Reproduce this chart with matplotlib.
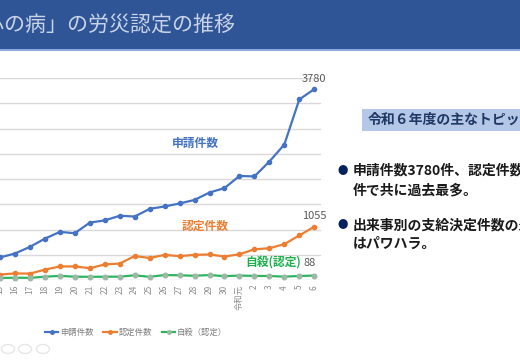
import matplotlib.pyplot as plt
from matplotlib.lines import Line2D
from matplotlib.patches import Rectangle, Circle

plt.rcParams['font.family'] = ['Noto Sans CJK JP', 'DejaVu Sans']

# years: 平成15..30, 令和元..6
years = ['15', '16', '17', '18', '19', '20', '21', '22', '23', '24', '25',
         '26', '27', '28', '29', '30', '令和元', '2', '3', '4', '5', '6']
claims = [447, 524, 656, 819, 952, 927, 1136, 1181, 1272, 1257, 1409,
          1456, 1515, 1586, 1732, 1820, 2060, 2051, 2346, 2683, 3575, 3780]
approved = [108, 130, 127, 205, 268, 269, 234, 308, 325, 475, 436,
            497, 472, 498, 506, 465, 509, 608, 629, 710, 883, 1055]
suicide = [40, 45, 42, 66, 81, 66, 63, 65, 66, 93, 63,
           99, 93, 84, 98, 76, 88, 81, 79, 67, 79, 88]

blue = '#4472C4'
orange = '#ED7D31'
green = '#2DB560'

fig = plt.figure(figsize=(5.2, 3.6), dpi=100)
W, H = 520, 360

def fx(px):
    return px / W

def fy(py):
    return 1 - py / H

# title band
fig.patches.append(Rectangle((0, fy(49)), 1, 49 / H, transform=fig.transFigure,
                             facecolor='#2F5597', edgecolor='none', zorder=0))
fig.patches.append(Rectangle((0, fy(50.5)), 1, 1.5 / H, transform=fig.transFigure,
                             facecolor='#8FAADC', edgecolor='none', zorder=0))
fig.text(fx(235), fy(25), '「心の病」の労災認定の推移', ha='right', va='center',
         fontsize=15.1, color='#C9D3E6')

# chart
ax = fig.add_axes([0, fy(280), fx(321), (280 - 78) / H])
x = list(range(len(years)))
ax.plot(x, claims, color=blue, lw=1.6, marker='o', ms=3, zorder=3, clip_on=False)
ax.plot(x, approved, color=orange, lw=1.6, marker='o', ms=3, zorder=3, clip_on=False)
ax.plot(x, suicide, color=green, lw=1.6, marker='o', ms=3.3,
        mfc='#9DB8A4', mec='#9DB8A4', zorder=3, clip_on=False)
ax.set_xlim(0, 21.45)
ax.set_ylim(0, 4000)
ax.set_yticks(range(0, 4001, 500))
ax.yaxis.grid(True, color='#D9D9D9', lw=1)
ax.set_axisbelow(True)
for s in ax.spines.values():
    s.set_visible(False)
ax.tick_params(axis='both', length=0)
ax.set_yticklabels([])
ax.set_xticks(x)
ax.set_xticklabels(years, rotation=90, fontsize=6, color='#8C8C8C', va='top')

ax.text(21, 3780 + 110, '3780', ha='center', va='bottom', fontsize=8, color='#595959')
ax.text(21, 1055 + 110, '1055', ha='center', va='bottom', fontsize=8, color='#595959')
ax.text(20.7, 88 + 150, '88', ha='center', va='bottom', fontsize=8, color='#595959')

fig.text(fx(172), fy(143), '申請件数', ha='left', va='center', fontsize=8.5,
         color=blue, fontweight='bold')
fig.text(fx(182), fy(226), '認定件数', ha='left', va='center', fontsize=8.5,
         color=orange, fontweight='bold')
fig.text(fx(245), fy(262), '自殺(認定)', ha='left', va='center', fontsize=8.5,
         color='#1DAF4C', fontweight='bold')

# legend
handles = [Line2D([], [], color=blue, lw=1.6, marker='o', ms=2.5),
           Line2D([], [], color=orange, lw=1.6, marker='o', ms=2.5),
           Line2D([], [], color=green, lw=1.6, marker='o', ms=2.5,
                  mfc='#9DB8A4', mec='#9DB8A4')]
fig.legend(handles, ['申請件数', '認定件数', '自殺（認定）'], ncol=3,
           loc='center', bbox_to_anchor=(fx(136), fy(332)), frameon=False,
           fontsize=6, labelcolor='#7F7F7F', handlelength=1.6,
           handletextpad=0.2, columnspacing=1.2)

# toolbar icons
for cx in [8, 25, 43]:
    fig.patches.append(Circle((fx(cx), fy(349)), 6.5 / W, transform=fig.transFigure,
                              facecolor='none', edgecolor='#E6E6E6', lw=1))

# right panel
fig.patches.append(Rectangle((fx(362), fy(131)), 1, 22 / H, transform=fig.transFigure,
                             facecolor='#B4C7E7', edgecolor='none'))
fig.text(fx(368), fy(120), '令和６年度の主なトピックス', ha='left', va='center',
         fontsize=10, color='#1F3864', fontweight='bold')

bullets = [(171, '申請件数3780件、認定件数1055', '件で共に過去最多。'),
           (225, '出来事別の支給決定件数の最多', 'はパワハラ。')]
for yb, l1, l2 in bullets:
    fig.text(fx(338), fy(yb), '●', ha='left', va='center', fontsize=7.5,
             color='#002060')
    fig.text(fx(353), fy(yb), l1, ha='left', va='center', fontsize=10,
             color='#1A1A1A', fontweight='bold')
    fig.text(fx(353), fy(yb + 19), l2, ha='left', va='center', fontsize=10,
             color='#1A1A1A', fontweight='bold')

fig.savefig('out.png', dpi=100)
